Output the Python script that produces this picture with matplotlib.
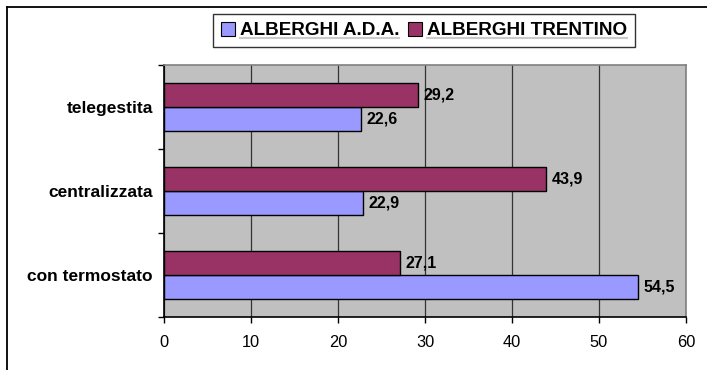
import matplotlib
matplotlib.use("Agg")
import matplotlib.pyplot as plt
from matplotlib.lines import Line2D
from matplotlib.patches import Patch
import numpy as np

plt.rcParams['font.family'] = ['Liberation Sans', 'DejaVu Sans']

# Data
categories = ["con termostato", "centralizzata", "telegestita"]
series_names = ["ALBERGHI A.D.A.", "ALBERGHI TRENTINO"]
ada_values = [54.5, 22.9, 22.6]
trentino_values = [27.1, 43.9, 29.2]
x_ticks = [0, 10, 20, 30, 40, 50, 60]

col_ada = "#9999FF"
col_tre = "#993366"

fig = plt.figure(figsize=(7.07, 3.70), dpi=100)
W, H = 707, 370
ax = fig.add_axes([164 / W, 1 - 316.5 / H, (686 - 164) / W, (316.5 - 65) / H])
ax.set_facecolor("#C0C0C0")

y = np.arange(len(categories))
h = 0.286
ax.barh(y - h / 2, ada_values, height=h, color=col_ada, edgecolor="black",
        linewidth=1.0, label=series_names[0], zorder=3)
ax.barh(y + h / 2, trentino_values, height=h, color=col_tre, edgecolor="black",
        linewidth=1.0, label=series_names[1], zorder=3)

def fmt(v):
    return f"{v:.1f}".replace(".", ",")

for yi, v in zip(y - h / 2, ada_values):
    ax.annotate(fmt(v), (v, yi), xytext=(4, 0), textcoords="offset points",
                va="center", ha="left", fontsize=11.5, fontweight="bold", zorder=4)
for yi, v in zip(y + h / 2, trentino_values):
    ax.annotate(fmt(v), (v, yi), xytext=(4, 0), textcoords="offset points",
                va="center", ha="left", fontsize=11.5, fontweight="bold", zorder=4)

ax.set_xlim(0, 60)
ax.set_ylim(-0.5, len(categories) - 0.5)
ax.set_xticks(x_ticks)
ax.set_xticklabels([str(t) for t in x_ticks], fontsize=11.8)
ax.tick_params(axis="x", direction="out", length=4, width=1, pad=9)

ax.set_yticks(y)
ax.set_yticklabels(categories, fontsize=12.5, fontweight="bold")
ax.tick_params(axis="y", which="major", length=0, pad=8)
ax.set_yticks(np.arange(-0.5, len(categories)), minor=True)
ax.tick_params(axis="y", which="minor", direction="out", length=4, width=1)

ax.grid(axis="x", color="#333333", linewidth=0.9, zorder=1)
ax.set_axisbelow(True)
for s in ["left", "bottom"]:
    ax.spines[s].set_color("black")
    ax.spines[s].set_linewidth(1.2)
for s in ["top", "right"]:
    ax.spines[s].set_color("#808080")
    ax.spines[s].set_linewidth(1.2)

handles = [Patch(facecolor=col_ada, edgecolor="black", linewidth=0.8),
           Patch(facecolor=col_tre, edgecolor="black", linewidth=0.8)]
leg = fig.legend(handles, series_names, loc="center",
                 bbox_to_anchor=(424 / W, 1 - 30.5 / H), ncol=2,
                 prop={"size": 13.6, "weight": "bold"}, frameon=True,
                 fancybox=False, shadow=False, handlelength=0.75,
                 handleheight=0.75, handletextpad=0.25, columnspacing=0.45,
                 borderpad=0.4, borderaxespad=0)
leg.get_frame().set_edgecolor("black")
leg.get_frame().set_linewidth(1.0)

# Outer chart frame (left and top edges)
fig.add_artist(Line2D([7 / W, 7 / W], [0, 1 - 7 / H], color="black",
                      linewidth=1.3, transform=fig.transFigure))
fig.add_artist(Line2D([7 / W, 1], [1 - 7 / H, 1 - 7 / H], color="black",
                      linewidth=1.3, transform=fig.transFigure))

# Underline legend labels
fig.canvas.draw()
renderer = fig.canvas.get_renderer()
inv = fig.transFigure.inverted()
for t in leg.get_texts():
    bb = t.get_window_extent(renderer)
    (x0, y0), (x1, _) = inv.transform([(bb.x0, bb.y0), (bb.x1, bb.y1)])
    fig.add_artist(Line2D([x0, x1], [y0 + 1.0 / H, y0 + 1.0 / H], color="black",
                          linewidth=1.5, transform=fig.transFigure))

fig.savefig("out.png", dpi=100)
